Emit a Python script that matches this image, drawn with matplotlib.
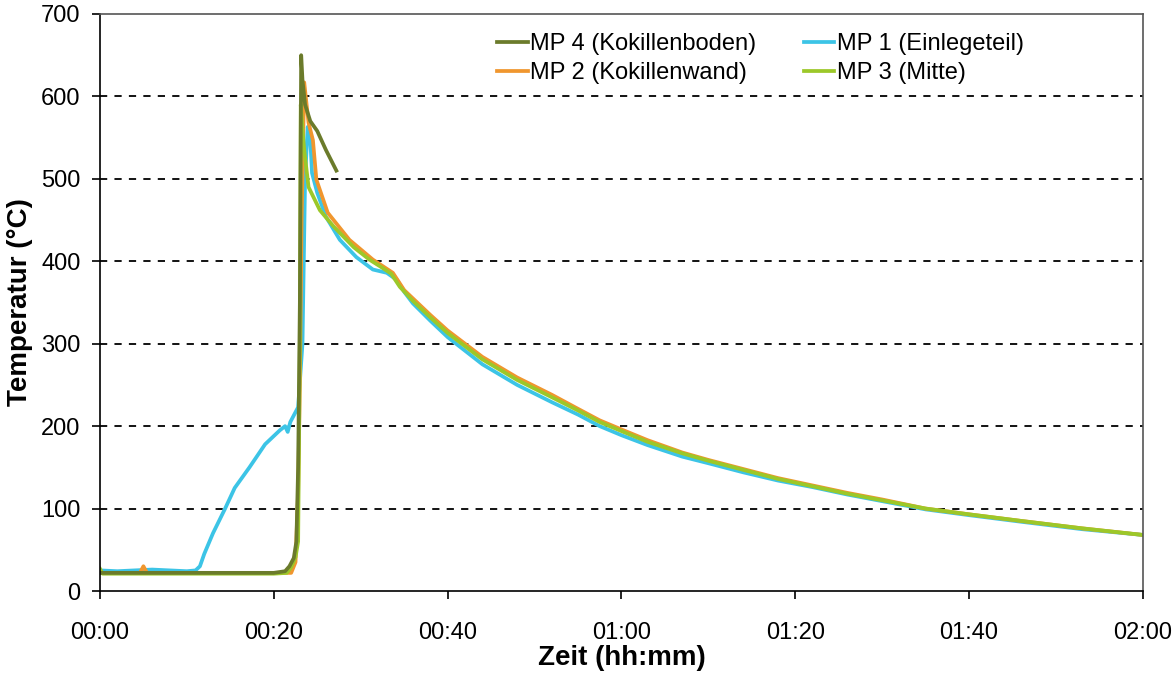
import matplotlib as mpl
mpl.use('Agg')
import matplotlib.pyplot as plt
import matplotlib.ticker as tick

plt.rcParams['font.family'] = ['Liberation Sans', 'DejaVu Sans']

# Zeit in Minuten, Temperatur in °C
t_mp4 = [0, 5, 10, 15, 20, 21.3, 21.8, 22.3, 22.6, 22.8, 23.0, 23.15, 23.3, 23.6, 24.2, 25.0, 26.0, 27.2]
T_mp4 = [22, 22, 22, 22, 22, 24, 30, 40, 60, 150, 350, 650, 620, 590, 570, 558, 535, 510]

t_mp1 = [0, 2, 4, 6, 8, 10, 11, 11.5, 12, 13, 14.4, 15.5, 17.2, 19, 20.7, 21.3, 21.6, 21.9, 22.4, 22.8,
         23.3, 23.6, 23.9, 24.2, 24.4, 25.0, 26.0, 27.6, 29.5, 31.4, 33.0, 34.2, 35, 36, 38, 40, 44, 48,
         52, 55, 57.5, 60, 63, 67, 70, 74, 78, 82, 86, 90, 95, 100, 106, 113, 120]
T_mp1 = [25, 24, 25, 26, 25, 24, 25, 30, 45, 70, 100, 125, 150, 178, 195, 200, 193, 205, 215, 223,
         300, 500, 563, 547, 507, 483, 454, 426, 405, 390, 386, 377, 363, 349, 328, 308, 275, 250,
         229, 214, 200, 189, 177, 163, 155, 144, 134, 126, 117, 109, 99, 92, 84, 75, 68]

t_mp2 = [0, 4.6, 5.0, 5.4, 10, 15, 20, 22.0, 22.5, 22.8, 23.0, 23.2, 23.5, 24.0, 24.5, 24.9, 26.2, 28.7,
         31.4, 33.7, 35, 36, 38, 40, 44, 48, 52, 55, 57.5, 60, 63, 67, 70, 74, 78, 82, 86, 90, 95,
         100, 106, 113, 120]
T_mp2 = [22, 22, 30, 22, 22, 22, 22, 22, 35, 120, 250, 450, 617, 568, 547, 499, 459, 426,
         402, 386, 365, 355, 335, 316, 284, 259, 238, 221, 207, 196, 183, 168, 159, 148, 137, 128, 119, 111, 100,
         93, 85, 76, 68]

t_mp3 = [0, 0.3, 5, 10, 15, 20, 21.5, 22.0, 22.5, 22.8, 23.0, 23.1, 23.3, 23.5, 24.0, 25.3, 26.9, 29.2,
         31.0, 32.5, 33.5, 34.5, 36, 38, 40, 44, 48, 52, 55, 57.5, 60, 63, 67, 70, 74, 78, 82, 86, 90,
         95, 100, 106, 113, 120]
T_mp3 = [27, 21, 21, 21, 21, 21, 22, 29, 41, 60, 300, 590, 560, 535, 490, 462, 442, 417,
         402, 392, 385, 369, 352, 332, 313, 281, 256, 235, 219, 205, 194, 181, 167, 158, 147, 136, 127, 118, 110,
         100, 93, 85, 76, 68]

x_ticks = [0, 20, 40, 60, 80, 100, 120]
y_ticks = [0, 100, 200, 300, 400, 500, 600, 700]


def hhmm(x, pos):
    return '%02d:%02d' % (int(x) // 60, int(x) % 60)


fig = plt.figure(figsize=(11.76, 6.79), dpi=100)
ax = fig.add_axes([0.085, 0.1296, 0.8869, 0.8498])

# Linien
l1, = ax.plot(t_mp1, T_mp1, color='#3CC4E6', lw=2.7, label='MP 1 (Einlegeteil)')
l2, = ax.plot(t_mp2, T_mp2, color='#F0962E', lw=2.7, label='MP 2 (Kokillenwand)')
l3, = ax.plot(t_mp3, T_mp3, color='#9CC829', lw=2.7, label='MP 3 (Mitte)')
l4, = ax.plot(t_mp4, T_mp4, color='#6B7B2B', lw=2.7, label='MP 4 (Kokillenboden)')

ax.set_xlim(0, 120)
ax.set_ylim(0, 700)
ax.set_xticks(x_ticks)
ax.set_yticks(y_ticks)
ax.xaxis.set_major_formatter(tick.FuncFormatter(hhmm))

# Gitter
for yv in y_ticks[1:-1]:
    ax.axhline(yv, color='black', lw=1.3, ls=(0, (4, 4)), zorder=0)

for s in ['top', 'right']:
    ax.spines[s].set_color('#555555')
    ax.spines[s].set_linewidth(1.2)
for s in ['left', 'bottom']:
    ax.spines[s].set_color('black')
    ax.spines[s].set_linewidth(1.2)

ax.tick_params(axis='both', direction='out', length=6, width=1.2, labelsize=17, colors='black')
ax.tick_params(axis='x', pad=16)
ax.tick_params(axis='y', pad=8)

ax.set_xlabel('Zeit (hh:mm)', fontsize=20, fontweight='bold', labelpad=1)
ax.set_ylabel('Temperatur (°C)', fontsize=20, fontweight='bold', labelpad=6)

ax.legend([l4, l2, l1, l3], [l4.get_label(), l2.get_label(), l1.get_label(), l3.get_label()],
          ncol=2, loc='upper left', bbox_to_anchor=(0.365, 0.995), frameon=False, fontsize=17,
          handlelength=1.3, handletextpad=0.1, columnspacing=2.0, labelspacing=0.3, borderpad=0.2)

plt.savefig('out.png', dpi=100)
